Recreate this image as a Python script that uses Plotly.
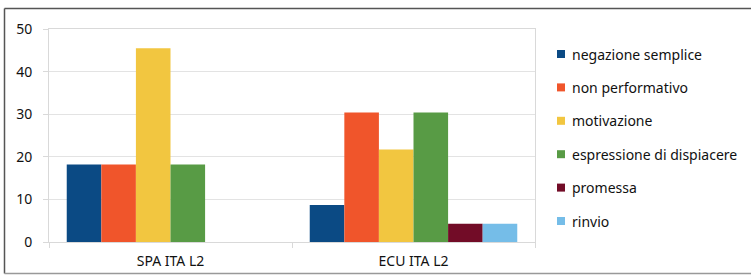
import plotly.graph_objects as go

categories = ["SPA ITA L2", "ECU ITA L2"]
series_names = ["negazione semplice", "non performativo", "motivazione",
                "espressione di dispiacere", "promessa", "rinvio"]
negazione_semplice = [18.2, 8.7]
non_performativo = [18.2, 30.4]
motivazione = [45.5, 21.7]
espressione_di_dispiacere = [18.2, 30.4]
promessa = [0, 4.3]
rinvio = [0, 4.3]
y_ticks = [0, 10, 20, 30, 40, 50]

values = [negazione_semplice, non_performativo, motivazione,
          espressione_di_dispiacere, promessa, rinvio]
colors = ["#0b4a84", "#f0552b", "#f2c640", "#589b45", "#720c27", "#75bde8"]

FONT = "Noto Sans"
TXT = "#111111"
FS = 14

fig = go.Figure()
for name, vals, col in zip(series_names, values, colors):
    fig.add_trace(go.Bar(x=categories, y=vals, name=name, marker_color=col,
                         marker_line_width=0, showlegend=False))

W, H = 751, 275
L, R, T, B = 49, 216, 29, 33
pw, ph = W - L - R, H - T - B

def px(x):
    return (x - L) / pw

def py(y):
    return (H - B - y) / ph

shapes = [
    dict(type="line", xref="paper", yref="paper", x0=px(4.5), x1=px(751),
         y0=py(8.5), y1=py(8.5), line=dict(color="#555555", width=1.5)),
    dict(type="line", xref="paper", yref="paper", x0=px(4.5), x1=px(4.5),
         y0=py(8.5), y1=py(273.5), line=dict(color="#555555", width=1.5)),
    dict(type="line", xref="paper", yref="paper", x0=px(4.5), x1=px(751),
         y0=py(273.5), y1=py(273.5), line=dict(color="#999999", width=1.5)),
]
annotations = []
# legend (drawn manually to match spacing)
leg_x, leg_y0, leg_step, sq = 561, 54, 33.4, 8
for i, (name, col) in enumerate(zip(series_names, colors)):
    cy = leg_y0 + i * leg_step
    shapes.append(dict(type="rect", xref="paper", yref="paper",
                       x0=px(leg_x - sq / 2), x1=px(leg_x + sq / 2),
                       y0=py(cy - sq / 2), y1=py(cy + sq / 2),
                       fillcolor=col, line=dict(width=0)))
    annotations.append(dict(xref="paper", yref="paper", x=px(570), y=py(cy),
                            xanchor="left", yanchor="middle", showarrow=False,
                            text=name, font=dict(family=FONT, size=FS, color=TXT)))

fig.update_layout(
    width=W, height=H,
    margin=dict(l=L, r=R, t=T, b=B, autoexpand=False),
    paper_bgcolor="white", plot_bgcolor="white",
    barmode="group", bargap=0.146, bargroupgap=0,
    font=dict(family=FONT, size=FS, color=TXT),
    showlegend=False,
    xaxis=dict(type="category", tickson="boundaries", ticks="outside",
               ticklen=5, tickcolor="#d9d9d9", showline=True,
               linecolor="#d9d9d9", mirror=True, showgrid=False,
               ticklabelstandoff=6, automargin=False,
               tickfont=dict(family=FONT, size=FS, color=TXT)),
    yaxis=dict(range=[0, 50], tickvals=y_ticks, ticks="outside", ticklen=5,
               tickcolor="#d9d9d9", showline=True, linecolor="#d9d9d9",
               mirror=True, gridcolor="#e3e3e3", zeroline=False,
               ticklabelstandoff=8, automargin=False,
               tickfont=dict(family=FONT, size=FS, color=TXT)),
    shapes=shapes,
    annotations=annotations,
)

fig.write_html("out.html", config={"displayModeBar": False},
               post_script="document.body.style.margin='0';document.body.style.overflow='hidden';")
